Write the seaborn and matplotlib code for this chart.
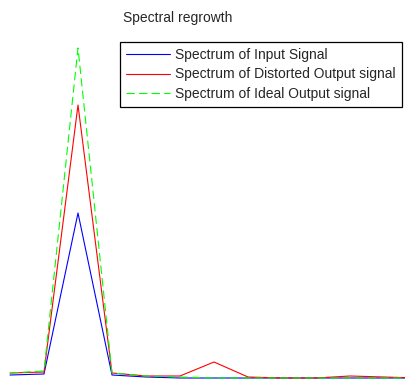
import matplotlib
matplotlib.use("Agg")
import matplotlib.pyplot as plt
import seaborn as sns
import pandas as pd
import numpy as np

# Spectrum bins (index) and magnitudes (arbitrary units)
bins = list(range(13))
input_spec = [5, 6, 167, 5, 3, 2, 2, 2, 2, 2, 2, 2, 2]
distorted_spec = [7, 8, 275, 7, 4, 4, 18, 3, 2, 2, 4, 3, 2]
ideal_spec = [7, 9, 332, 7, 4, 3, 2, 2, 2, 2, 2, 2, 2]
series_names = ["Spectrum of Input Signal",
                "Spectrum of Distorted Output signal",
                "Spectrum of Ideal Output signal"]
title_text = "Spectral regrowth"

df = pd.concat([
    pd.DataFrame({"bin": bins, "mag": input_spec, "series": series_names[0]}),
    pd.DataFrame({"bin": bins, "mag": distorted_spec, "series": series_names[1]}),
    pd.DataFrame({"bin": bins, "mag": ideal_spec, "series": series_names[2]}),
])

sns.set_style("white")
plt.rcParams["font.family"] = ["Liberation Sans", "DejaVu Sans"]

fig = plt.figure(figsize=(4.06, 3.8), dpi=100)
ax = fig.add_axes([0, 0, 1, 1])

palette = {series_names[0]: "#0000ff", series_names[1]: "#ff0000", series_names[2]: "#00ff00"}
dashes = {series_names[0]: "", series_names[1]: "", series_names[2]: (7.5, 3.8)}
sns.lineplot(data=df, x="bin", y="mag", hue="series", style="series",
             palette=palette, dashes=dashes, linewidth=0.8, ax=ax,
             hue_order=series_names, style_order=series_names)

# pixel mapping: bin 0 at x=10px, spacing 34px; y: 0 at 380px bottom
ax.set_xlim(-10 / 34, (406 - 10) / 34)
ax.set_ylim(0, 380)
ax.axis("off")

leg = ax.legend(loc="upper left", bbox_to_anchor=(120 / 406, 1 - 42 / 380),
                frameon=True, fancybox=False, fontsize=10, handlelength=3.2,
                handletextpad=0.36, borderpad=0.42, labelspacing=0.4,
                borderaxespad=0, title=None)
frame = leg.get_frame()
frame.set_edgecolor("black")
frame.set_linewidth(0.9)
frame.set_facecolor("white")
frame.set_alpha(1)

fig.text(123 / 406, 1 - 18 / 380, title_text, fontsize=10, va="center", ha="left")

fig.savefig("out.png", dpi=100, facecolor="white")
